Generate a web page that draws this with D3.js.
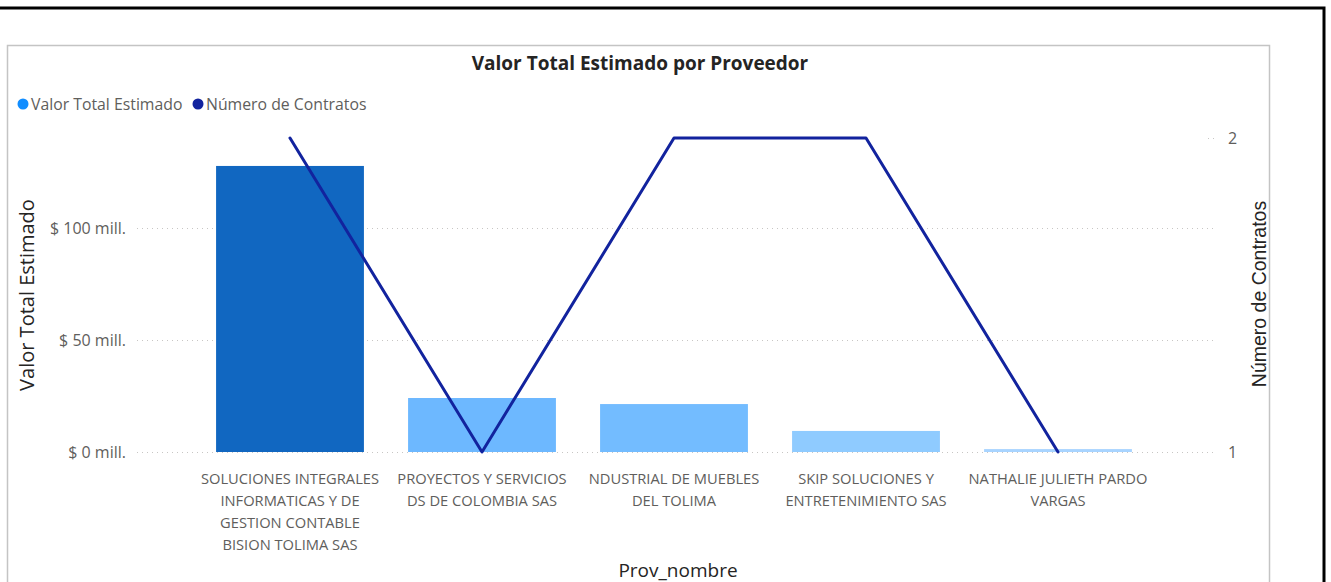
<!DOCTYPE html>
<html>
<head>
<meta charset="utf-8">
<script src="https://cdn.jsdelivr.net/npm/d3@7"></script>
<style>
  body { margin: 0; background: #fff; }
  svg { display: block; font-family: 'Segoe UI', 'Open Sans', sans-serif; }
</style>
</head>
<body>
<div id="chart"></div>
<script>
// data
let proveedores = [
    ['SOLUCIONES INTEGRALES', 'INFORMATICAS Y DE', 'GESTION CONTABLE', 'BISION TOLIMA SAS'],
    ['PROYECTOS Y SERVICIOS', 'DS DE COLOMBIA SAS'],
    ['NDUSTRIAL DE MUEBLES', 'DEL TOLIMA'],
    ['SKIP SOLUCIONES Y', 'ENTRETENIMIENTO SAS'],
    ['NATHALIE JULIETH PARDO', 'VARGAS'],
]
let valorTotal = [127.7, 24.1, 21.4, 9.4, 1.3]   // millones
let numContratos = [2, 1, 2, 2, 1]
let valorTicks = [0, 50, 100]
let contratosTicks = [1, 2]
let barColors = ['#1167c1', '#6db8ff', '#73bcff', '#8fcbff', '#a8d4ff']

let W = 1331, H = 582

let svg = d3.select('#chart')
    .append('svg')
    .attr('width', W)
    .attr('height', H)

// outer frame + visual panel
svg.append('path')
    .attr('d', 'M0,8 H1324 V582')
    .attr('fill', 'none')
    .attr('stroke', '#000')
    .attr('stroke-width', 3)

svg.append('rect')
    .attr('x', 7.5).attr('y', 45.5)
    .attr('width', 1262).attr('height', 600)
    .attr('fill', '#fff')
    .attr('stroke', '#c4c4c4')
    .attr('stroke-width', 1.5)

let keys = proveedores.map((d, i) => i)

let x = d3.scaleBand()
    .domain(keys)
    .range([194, 1154])
    .paddingInner(0.23)
    .paddingOuter(0.115)

let y = d3.scaleLinear()
    .domain([0, 100])
    .range([452, 228])

let y2 = d3.scaleLinear()
    .domain([1, 2])
    .range([452, 138])

// title
svg.append('text')
    .attr('x', 640).attr('y', 70)
    .attr('text-anchor', 'middle')
    .style('font-family', "'Open Sans', sans-serif")
    .style('font-size', '19px')
    .style('font-weight', 700)
    .attr('fill', '#252423')
    .text('Valor Total Estimado por Proveedor')

// legend
let legend = [
    {name: 'Valor Total Estimado', color: '#118dff', x: 23},
    {name: 'Número de Contratos', color: '#12239e', x: 198},
]
let lg = svg.selectAll('.legend')
    .data(legend)
    .join('g')
    .attr('class', 'legend')
    .attr('transform', d => `translate(${d.x}, 104)`)
lg.append('circle')
    .attr('r', 5.5)
    .attr('fill', d => d.color)
lg.append('text')
    .attr('x', 8).attr('y', 5.5)
    .style('font-size', '15.8px')
    .attr('fill', '#605e5c')
    .text(d => d.name)

// left axis (gridlines + labels)
let left = svg.append('g')
    .attr('transform', 'translate(137, 0)')
    .call(d3.axisLeft(y)
        .tickValues(valorTicks)
        .tickSize(-1080)
        .tickPadding(11)
        .tickFormat(d => `$ ${d} mill.`))
left.select('.domain').remove()
left.selectAll('line')
    .attr('stroke', '#c8c6c4')
    .attr('stroke-dasharray', '1,4')
left.selectAll('text')
    .style('font-size', '16px')
    .style('font-family', "'Segoe UI', 'Open Sans', sans-serif")
    .attr('fill', '#605e5c')

// right axis
let right = svg.append('g')
    .attr('transform', 'translate(1218, 0)')
    .call(d3.axisRight(y2)
        .tickValues(contratosTicks)
        .tickSize(0)
        .tickPadding(10)
        .tickFormat(d3.format('d')))
right.select('.domain').remove()
right.selectAll('text')
    .style('font-size', '16px')
    .style('font-family', "'Segoe UI', 'Open Sans', sans-serif")
    .attr('fill', '#605e5c')
right.selectAll('.tick').filter(d => d === 2)
    .append('line')
    .attr('x1', -10).attr('x2', 0)
    .attr('stroke', '#c8c6c4')
    .attr('stroke-dasharray', '1,4')

// axis titles
svg.append('text')
    .attr('transform', 'translate(34, 295) rotate(-90)')
    .attr('text-anchor', 'middle')
    .style('font-size', '20px')
    .attr('fill', '#252423')
    .text('Valor Total Estimado')

svg.append('text')
    .attr('transform', 'translate(1266, 294) rotate(-90)')
    .attr('text-anchor', 'middle')
    .style('font-family', "'Liberation Sans', Arial, sans-serif")
    .style('font-size', '19.5px')
    .attr('fill', '#252423')
    .text('Número de Contratos')

svg.append('text')
    .attr('x', 678).attr('y', 577)
    .attr('text-anchor', 'middle')
    .style('font-size', '19px')
    .attr('fill', '#252423')
    .text('Prov_nombre')

// bars
svg.selectAll('.bar')
    .data(keys)
    .join('rect')
    .attr('class', 'bar')
    .attr('x', d => x(d))
    .attr('y', d => y(valorTotal[d]))
    .attr('width', x.bandwidth())
    .attr('height', d => y(0) - y(valorTotal[d]))
    .attr('fill', d => barColors[d])

// category labels
let cats = svg.selectAll('.cat')
    .data(keys)
    .join('text')
    .attr('class', 'cat')
    .attr('text-anchor', 'middle')
    .style('font-size', '14.7px')
    .attr('fill', '#605e5c')
cats.selectAll('tspan')
    .data(d => proveedores[d].map(t => ({k: d, t})))
    .join('tspan')
    .attr('x', d => x(d.k) + x.bandwidth() / 2)
    .attr('y', (d, i) => 484 + i * 22)
    .text(d => d.t)

// line
let line = d3.line()
    .x(d => x(d) + x.bandwidth() / 2)
    .y(d => y2(numContratos[d]))

svg.append('path')
    .datum(keys)
    .attr('d', line)
    .attr('fill', 'none')
    .attr('stroke', '#12239e')
    .attr('stroke-width', 3)
    .attr('stroke-linejoin', 'round')
    .attr('stroke-linecap', 'round')
</script>
</body>
</html>
